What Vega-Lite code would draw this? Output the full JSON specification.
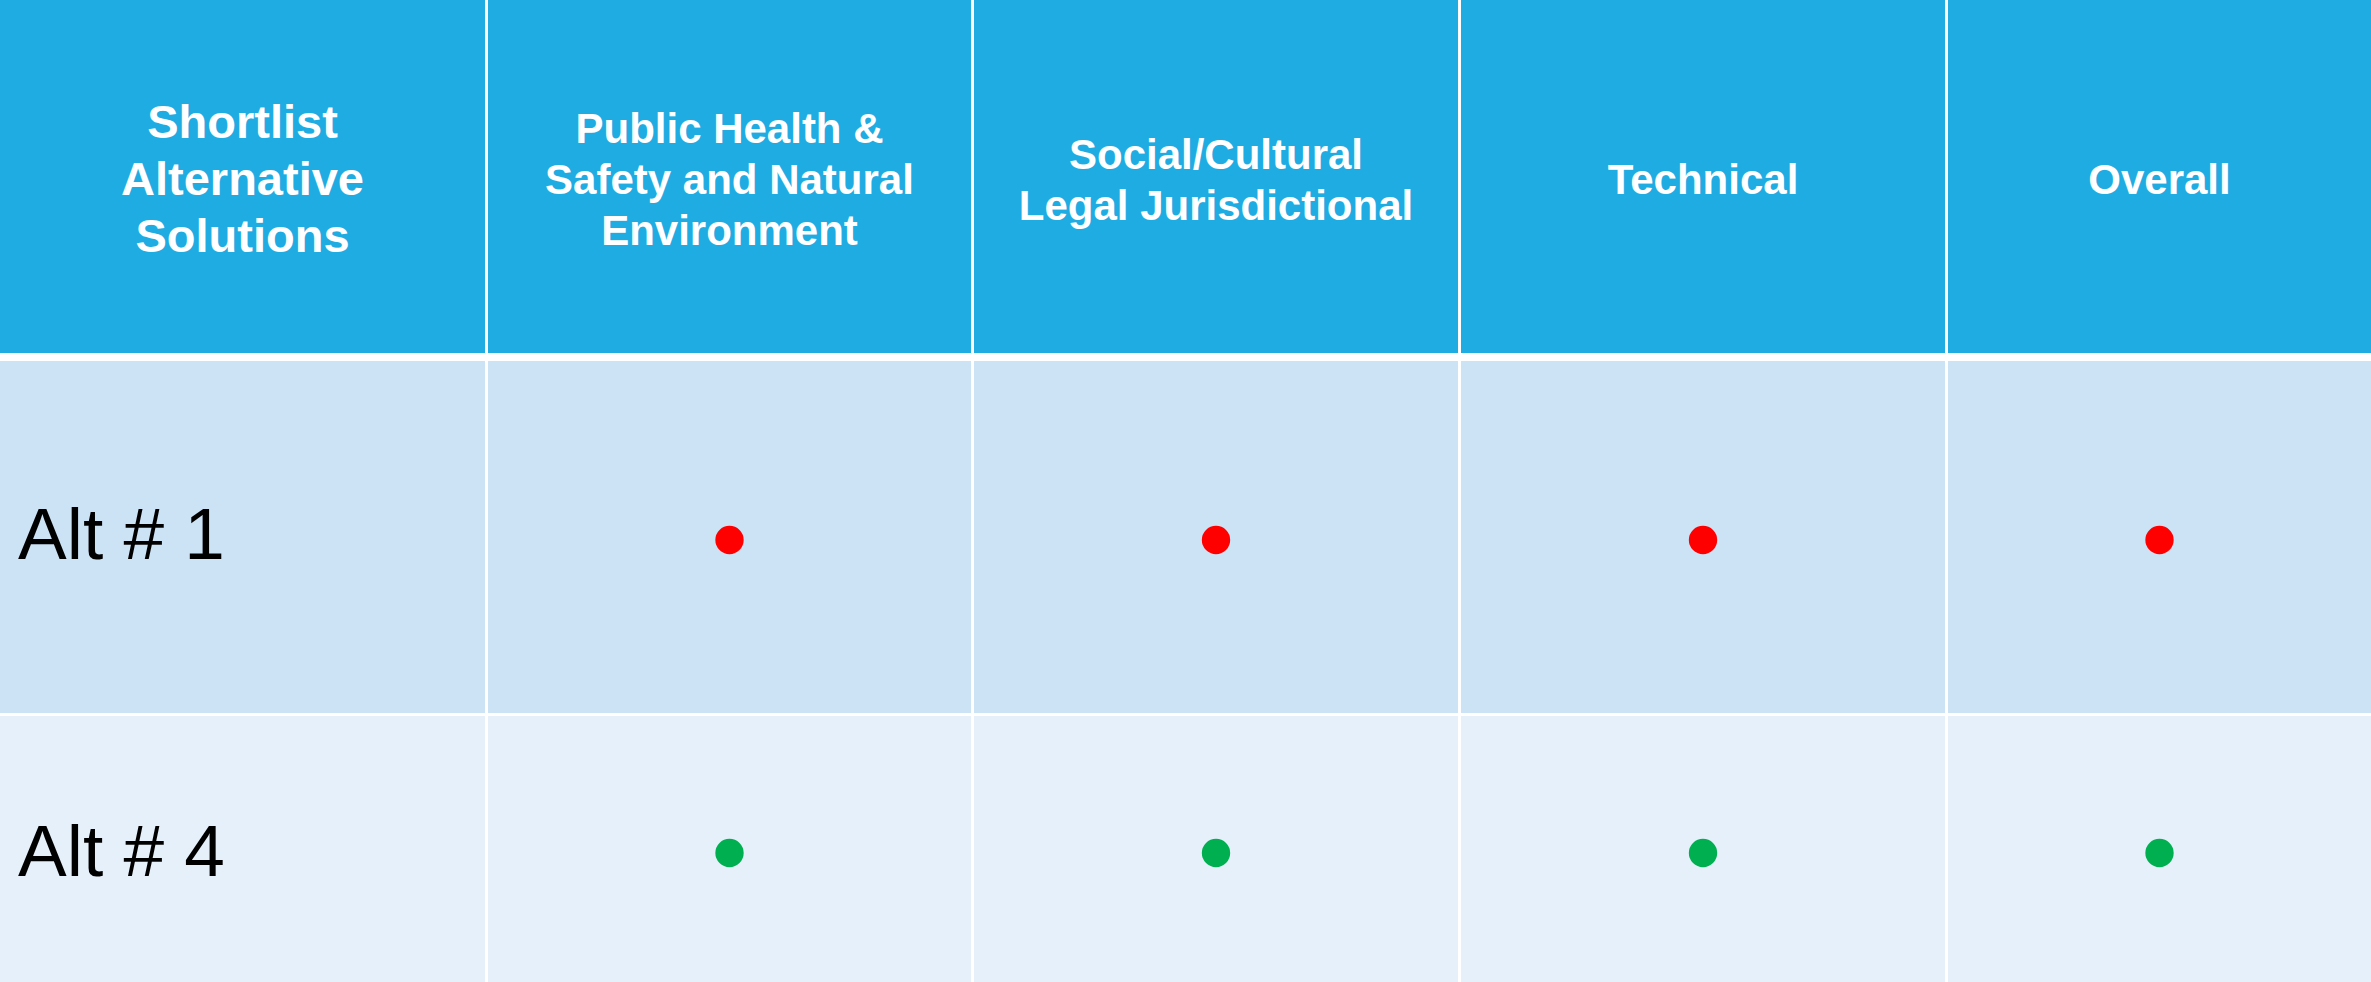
{
  "$schema": "https://vega.github.io/schema/vega-lite/v6.json",
  "padding": 0,
  "background": "#FFFFFF",
  "config": {"view": {"stroke": null}, "concat": {"spacing": 3}},
  "datasets": {
    "cells": [
      {"row": "header", "col": "c1", "label": "Shortlist\nAlternative\nSolutions"},
      {"row": "header", "col": "c2", "label": "Public Health &\nSafety and Natural\nEnvironment"},
      {"row": "header", "col": "c3", "label": "Social/Cultural\nLegal Jurisdictional"},
      {"row": "header", "col": "c4", "label": "Technical"},
      {"row": "header", "col": "c5", "label": "Overall"},
      {"row": "alt1", "col": "c1", "label": "Alt # 1"},
      {"row": "alt1", "col": "c2", "status": "red"},
      {"row": "alt1", "col": "c3", "status": "red"},
      {"row": "alt1", "col": "c4", "status": "red"},
      {"row": "alt1", "col": "c5", "status": "red"},
      {"row": "alt4", "col": "c1", "label": "Alt # 4"},
      {"row": "alt4", "col": "c2", "status": "green"},
      {"row": "alt4", "col": "c3", "status": "green"},
      {"row": "alt4", "col": "c4", "status": "green"},
      {"row": "alt4", "col": "c5", "status": "green"}
    ]
  },
  "data": {"name": "cells"},
  "vconcat": [
    {
      "hconcat": [
        {"width": 485, "height": 353, "view": {"fill": "#1FACE3", "stroke": null},
         "transform": [{"filter": "datum.row === 'header' && datum.col === 'c1'"}],
         "mark": {"type": "text", "color": "#FFFFFF", "font": "Liberation Sans", "fontWeight": "bold", "fontSize": 47, "lineHeight": 57, "lineBreak": "\n", "align": "center", "baseline": "middle", "dy": -53},
         "encoding": {"text": {"field": "label"}}},
        {"width": 483, "height": 353, "view": {"fill": "#1FACE3", "stroke": null},
         "transform": [{"filter": "datum.row === 'header' && datum.col === 'c2'"}],
         "mark": {"type": "text", "color": "#FFFFFF", "font": "Liberation Sans", "fontWeight": "bold", "fontSize": 42, "lineHeight": 51, "lineBreak": "\n", "align": "center", "baseline": "middle", "dy": -47},
         "encoding": {"text": {"field": "label"}}},
        {"width": 484, "height": 353, "view": {"fill": "#1FACE3", "stroke": null},
         "transform": [{"filter": "datum.row === 'header' && datum.col === 'c3'"}],
         "mark": {"type": "text", "color": "#FFFFFF", "font": "Liberation Sans", "fontWeight": "bold", "fontSize": 42, "lineHeight": 51, "lineBreak": "\n", "align": "center", "baseline": "middle", "dy": -21},
         "encoding": {"text": {"field": "label"}}},
        {"width": 484, "height": 353, "view": {"fill": "#1FACE3", "stroke": null},
         "transform": [{"filter": "datum.row === 'header' && datum.col === 'c4'"}],
         "mark": {"type": "text", "color": "#FFFFFF", "font": "Liberation Sans", "fontWeight": "bold", "fontSize": 42, "lineHeight": 51, "lineBreak": "\n", "align": "center", "baseline": "middle", "dy": 4},
         "encoding": {"text": {"field": "label"}}},
        {"width": 423, "height": 353, "view": {"fill": "#1FACE3", "stroke": null},
         "transform": [{"filter": "datum.row === 'header' && datum.col === 'c5'"}],
         "mark": {"type": "text", "color": "#FFFFFF", "font": "Liberation Sans", "fontWeight": "bold", "fontSize": 42, "lineHeight": 51, "lineBreak": "\n", "align": "center", "baseline": "middle", "dy": 4},
         "encoding": {"text": {"field": "label"}}}
      ]
    },
    {
      "spacing": 3,
      "vconcat": [
        {
          "hconcat": [
            {"width": 485, "height": 352, "view": {"fill": "#CCE2F5", "stroke": null},
             "transform": [{"filter": "datum.row === 'alt1' && datum.col === 'c1'"}],
             "mark": {"type": "text", "color": "#000000", "font": "Liberation Sans", "fontSize": 73, "align": "left", "baseline": "middle", "x": 18},
             "encoding": {"text": {"field": "label"}}},
            {"width": 483, "height": 352, "view": {"fill": "#CCE2F5", "stroke": null},
             "transform": [{"filter": "datum.row === 'alt1' && datum.col === 'c2'"}],
             "mark": {"type": "point", "filled": true, "opacity": 1, "size": 804, "shape": "circle", "yOffset": 3},
             "encoding": {"color": {"field": "status", "type": "nominal", "scale": {"domain": ["red", "green"], "range": ["#FF0000", "#00B050"]}, "legend": null}}},
            {"width": 484, "height": 352, "view": {"fill": "#CCE2F5", "stroke": null},
             "transform": [{"filter": "datum.row === 'alt1' && datum.col === 'c3'"}],
             "mark": {"type": "point", "filled": true, "opacity": 1, "size": 804, "shape": "circle", "yOffset": 3},
             "encoding": {"color": {"field": "status", "type": "nominal", "scale": {"domain": ["red", "green"], "range": ["#FF0000", "#00B050"]}, "legend": null}}},
            {"width": 484, "height": 352, "view": {"fill": "#CCE2F5", "stroke": null},
             "transform": [{"filter": "datum.row === 'alt1' && datum.col === 'c4'"}],
             "mark": {"type": "point", "filled": true, "opacity": 1, "size": 804, "shape": "circle", "yOffset": 3},
             "encoding": {"color": {"field": "status", "type": "nominal", "scale": {"domain": ["red", "green"], "range": ["#FF0000", "#00B050"]}, "legend": null}}},
            {"width": 423, "height": 352, "view": {"fill": "#CCE2F5", "stroke": null},
             "transform": [{"filter": "datum.row === 'alt1' && datum.col === 'c5'"}],
             "mark": {"type": "point", "filled": true, "opacity": 1, "size": 804, "shape": "circle", "yOffset": 3},
             "encoding": {"color": {"field": "status", "type": "nominal", "scale": {"domain": ["red", "green"], "range": ["#FF0000", "#00B050"]}, "legend": null}}}
          ]
        },
        {
          "hconcat": [
            {"width": 485, "height": 266, "view": {"fill": "#E6F0FA", "stroke": null},
             "transform": [{"filter": "datum.row === 'alt4' && datum.col === 'c1'"}],
             "mark": {"type": "text", "color": "#000000", "font": "Liberation Sans", "fontSize": 73, "align": "left", "baseline": "middle", "x": 18, "dy": 5},
             "encoding": {"text": {"field": "label"}}},
            {"width": 483, "height": 266, "view": {"fill": "#E6F0FA", "stroke": null},
             "transform": [{"filter": "datum.row === 'alt4' && datum.col === 'c2'"}],
             "mark": {"type": "point", "filled": true, "opacity": 1, "size": 804, "shape": "circle", "yOffset": 4},
             "encoding": {"color": {"field": "status", "type": "nominal", "scale": {"domain": ["red", "green"], "range": ["#FF0000", "#00B050"]}, "legend": null}}},
            {"width": 484, "height": 266, "view": {"fill": "#E6F0FA", "stroke": null},
             "transform": [{"filter": "datum.row === 'alt4' && datum.col === 'c3'"}],
             "mark": {"type": "point", "filled": true, "opacity": 1, "size": 804, "shape": "circle", "yOffset": 4},
             "encoding": {"color": {"field": "status", "type": "nominal", "scale": {"domain": ["red", "green"], "range": ["#FF0000", "#00B050"]}, "legend": null}}},
            {"width": 484, "height": 266, "view": {"fill": "#E6F0FA", "stroke": null},
             "transform": [{"filter": "datum.row === 'alt4' && datum.col === 'c4'"}],
             "mark": {"type": "point", "filled": true, "opacity": 1, "size": 804, "shape": "circle", "yOffset": 4},
             "encoding": {"color": {"field": "status", "type": "nominal", "scale": {"domain": ["red", "green"], "range": ["#FF0000", "#00B050"]}, "legend": null}}},
            {"width": 423, "height": 266, "view": {"fill": "#E6F0FA", "stroke": null},
             "transform": [{"filter": "datum.row === 'alt4' && datum.col === 'c5'"}],
             "mark": {"type": "point", "filled": true, "opacity": 1, "size": 804, "shape": "circle", "yOffset": 4},
             "encoding": {"color": {"field": "status", "type": "nominal", "scale": {"domain": ["red", "green"], "range": ["#FF0000", "#00B050"]}, "legend": null}}}
          ]
        }
      ]
    }
  ],
  "spacing": 8
}
